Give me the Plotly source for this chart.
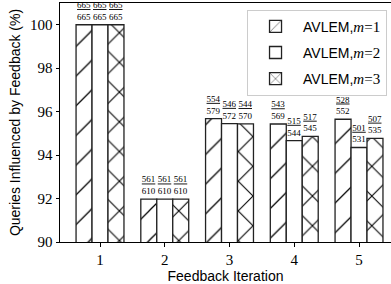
import plotly.graph_objects as go

iterations = [1, 2, 3, 4, 5]

m1_num = [665, 561, 554, 543, 528]
m1_den = [665, 610, 579, 569, 552]
m1_pct = [100.00, 91.97, 95.68, 95.43, 95.65]

m2_num = [665, 561, 546, 515, 501]
m2_den = [665, 610, 572, 544, 531]
m2_pct = [100.00, 91.97, 95.45, 94.67, 94.35]

m3_num = [665, 561, 544, 517, 507]
m3_den = [665, 610, 570, 545, 535]
m3_pct = [100.00, 91.97, 95.44, 94.86, 94.77]

series = [
    ("1", m1_num, m1_den, m1_pct, "/", 0.06),
    ("2", m2_num, m2_den, m2_pct, "", 0.06),
    ("3", m3_num, m3_den, m3_pct, "x", 0.1),
]

SERIF = "Liberation Serif"
SANS = "Liberation Sans"

fig = go.Figure()
for k, num, den, pct, shape, sol in series:
    labels = [f"<u>{n}</u><br>{d}" for n, d in zip(num, den)]
    fig.add_trace(go.Bar(
        x=iterations, y=pct,
        name=f'AVLEM,<span style="font-family:{SERIF};font-size:15px"><i>m</i>=' + k + '</span>',
        legendgroup=k,
        text=labels, textposition="outside", constraintext="none", cliponaxis=False,
        textfont=dict(family=SERIF, size=9, color="black"),
        marker=dict(
            color="white",
            line=dict(color="#222222", width=1.3),
            pattern=dict(shape=shape, size=21, solidity=sol, fgopacity=1,
                         fgcolor="black", bgcolor="white"),
        ),
    ))

fig.update_layout(
    width=391, height=284,
    margin=dict(l=60, r=0, t=3, b=42),
    paper_bgcolor="white", plot_bgcolor="white",
    barmode="group", bargap=0.26, bargroupgap=0,
    showlegend=True,
    legend=dict(
        x=0.988, y=0.972, xanchor="right", yanchor="top",
        bgcolor="white", bordercolor="#cccccc", borderwidth=1,
        font=dict(family=SANS, size=14, color="black"),
        tracegroupgap=5, traceorder="grouped", itemwidth=45,
    ),
    font=dict(family=SANS, color="black"),
)

fig.update_xaxes(
    range=[0.382, 5.494], tickvals=iterations, ticktext=[str(i) for i in iterations],
    showline=True, linecolor="black", linewidth=1, mirror=True,
    ticks="outside", ticklen=3.5, tickcolor="black",
    tickfont=dict(family=SERIF, size=15, color="black"),
    showgrid=False, zeroline=False,
    title=dict(text="Feedback Iteration", font=dict(family=SANS, size=14, color="black"), standoff=4),
)
fig.update_yaxes(
    range=[90, 101], tickvals=[90, 92, 94, 96, 98, 100],
    showline=True, linecolor="black", linewidth=1,
    ticks="outside", ticklen=3.5, tickcolor="black",
    tickfont=dict(family=SERIF, size=15, color="black"),
    showgrid=False, zeroline=False,
    title=dict(text="Queries Influenced by Feedback (%)", font=dict(family=SANS, size=14, color="black"), standoff=6),
)

fig.write_html("out.html", config={"displayModeBar": False},
               post_script="document.body.style.margin='0';document.body.style.overflow='hidden';")
